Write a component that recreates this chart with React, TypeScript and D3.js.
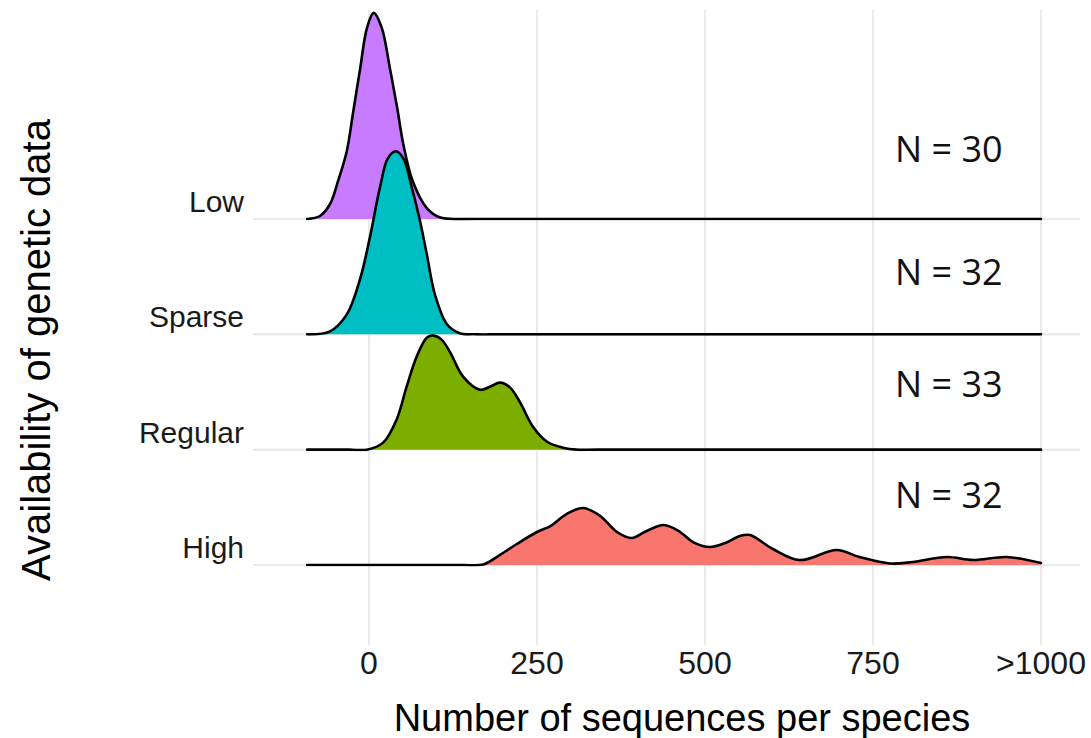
import React from "react";
import * as d3 from "d3";

const categories = ["Low", "Sparse", "Regular", "High"];
const fills = ["#C77CFF", "#00BFC4", "#7CAE00", "#F8766D"];
const nLabels = ["N = 30", "N = 32", "N = 33", "N = 32"];
const xTicks = [0, 250, 500, 750, 1000];
const xTickLabels = ["0", "250", "500", "750", ">1000"];

// density estimates (x in sequences, height in row units)
const lowX = [-92, -73, -58, -46, -33, -24, -13, -3, 7, 19, 31, 42, 51, 65, 86, 105, 125, 160, 1000];
const lowY = [0, 0.026, 0.13, 0.33, 0.59, 0.911, 1.31, 1.657, 1.787, 1.657, 1.31, 0.963, 0.65, 0.33, 0.095, 0.015, 0, 0, 0];

const sparseX = [-92, -58, -33, -13, 1, 16, 28, 40, 51, 64, 76, 86, 98, 116, 135, 160, 200, 1000];
const sparseY = [0, 0.026, 0.173, 0.486, 0.833, 1.266, 1.526, 1.587, 1.526, 1.266, 0.98, 0.694, 0.347, 0.087, 0.01, 0, 0, 0];

const regularX = [-92, -30, -3, 21, 41, 56, 71, 86, 96, 108, 121, 140, 165, 180, 195, 210, 225, 244, 265, 289, 309, 340, 1000];
const regularY = [0, 0, 0, 0.061, 0.26, 0.546, 0.807, 0.971, 0.989, 0.954, 0.841, 0.633, 0.52, 0.546, 0.581, 0.538, 0.408, 0.199, 0.069, 0.017, 0, 0, 0];

const highX = [-92, 100, 140, 170, 190, 220, 250, 270, 294, 319, 344, 369, 391, 413, 439, 463, 482, 507, 530, 552, 567, 601, 641, 696, 730, 775, 809, 860, 899, 949, 1000];
const highY = [0, 0, 0, 0.004, 0.069, 0.182, 0.286, 0.338, 0.442, 0.494, 0.425, 0.286, 0.234, 0.295, 0.347, 0.286, 0.199, 0.156, 0.191, 0.252, 0.26, 0.139, 0.043, 0.13, 0.069, 0.013, 0.026, 0.069, 0.043, 0.069, 0.017];

const seriesX = [lowX, sparseX, regularX, highX];
const seriesY = [lowY, sparseY, regularY, highY];

const W = 1091;
const H = 738;

export default function App() {
  const x = d3.scaleLinear().domain([0, 1000]).range([369, 1041]);
  const row = d3.scalePoint<string>().domain(categories).range([219, 565]);
  const step = row.step();
  const h = d3.scaleLinear().domain([0, 1]).range([0, step]);
  const curve = d3.curveCatmullRom.alpha(0.5);

  const font = "'Liberation Sans', Arial, sans-serif";

  return (
    <svg
      width={W}
      height={H}
      style={{ position: "absolute", left: 0, top: 0, background: "#fff" }}
    >
      <defs>
        {categories.map((c) => (
          <clipPath key={"c" + c} id={"clip-" + c}>
            <rect x={0} y={0} width={W} height={(row(c) as number) + 1.5} />
          </clipPath>
        ))}
      </defs>
      {xTicks.map((t) => (
        <line key={"v" + t} x1={x(t)} x2={x(t)} y1={10} y2={645} stroke="#e5e5e5" strokeWidth={1.6} />
      ))}
      {categories.map((c) => (
        <line key={"h" + c} x1={253} x2={1080} y1={row(c)} y2={row(c)} stroke="#e5e5e5" strokeWidth={1.6} />
      ))}
      {categories.map((c, i) => {
        const base = row(c) as number;
        const pts = seriesX[i].map((v, j) => [v, seriesY[i][j]] as [number, number]);
        const area = d3
          .area<[number, number]>()
          .x((d) => x(d[0]))
          .y0(base)
          .y1((d) => base - h(d[1]))
          .curve(curve);
        const line = d3
          .line<[number, number]>()
          .x((d) => x(d[0]))
          .y((d) => base - h(d[1]))
          .curve(curve);
        return (
          <g key={c} clipPath={`url(#clip-${c})`}>
            <path d={area(pts) || ""} fill={fills[i]} stroke="none" />
            <path d={line(pts) || ""} fill="none" stroke="#000" strokeWidth={2.6} strokeLinejoin="round" strokeLinecap="round" />
          </g>
        );
      })}
      {categories.map((c, i) => (
        <text
          key={"n" + c}
          x={895}
          y={[162, 285, 397, 508][i]}
          fontFamily="'Open Sans', sans-serif"
          fontSize={36}
          fill="#111"
        >
          {nLabels[i]}
        </text>
      ))}
      {categories.map((c) => (
        <text
          key={"l" + c}
          x={244}
          y={(row(c) as number) - 7}
          textAnchor="end"
          fontFamily={font}
          fontSize={30}
          fill="#1a1a1a"
        >
          {c}
        </text>
      ))}
      {xTicks.map((t, i) => (
        <text key={"t" + t} x={x(t)} y={674} textAnchor="middle" fontFamily={font} fontSize={32} fill="#1a1a1a">
          {xTickLabels[i]}
        </text>
      ))}
      <text x={682} y={731} textAnchor="middle" fontFamily={font} fontSize={38} fill="#000">
        Number of sequences per species
      </text>
      <text
        transform={`translate(50,350) rotate(-90)`}
        textAnchor="middle"
        fontFamily={font}
        fontSize={40}
        fill="#000"
      >
        Availability of genetic data
      </text>
    </svg>
  );
}
